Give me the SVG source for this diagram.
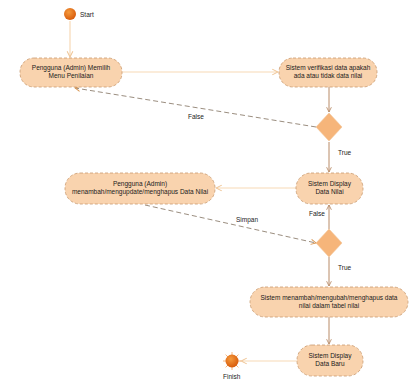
<svg xmlns="http://www.w3.org/2000/svg" width="417" height="381" viewBox="0 0 417 381">
  <style>
    .node rect { fill: #f9d3ae; stroke: #c99a70; stroke-width: 0.8; stroke-dasharray: 3 2; }
    .node text, .lbl { font-family: "Liberation Sans", Arial, sans-serif; font-size: 6.5px; fill: #1a1a1a; text-anchor: middle; }
    .lbl { text-anchor: start; }
    .edge-light { stroke: #f7d9b6; stroke-width: 1.2; fill: none; }
    .edge-dark { stroke: #b88a66; stroke-width: 1; fill: none; }
    .edge-dash { stroke: #8f8070; stroke-width: 0.9; stroke-dasharray: 5 3; fill: none; }
    .dec { fill: #f6b57a; stroke: #f2c497; stroke-width: 0.6; }
  </style>
  <defs>
    <radialGradient id="ball" cx="40%" cy="35%" r="65%">
      <stop offset="0" stop-color="#f59a3c"/>
      <stop offset="1" stop-color="#d85c0c"/>
    </radialGradient>
    <marker id="arrDark" viewBox="0 0 10 10" refX="9" refY="5" markerWidth="6" markerHeight="6" orient="auto">
      <path d="M1,1 L9,5 L1,9" fill="none" stroke="#b88a66" stroke-width="1.4"/>
    </marker>
    <marker id="arrLight" viewBox="0 0 10 10" refX="9" refY="5" markerWidth="6" markerHeight="6" orient="auto">
      <path d="M1,1 L9,5 L1,9" fill="none" stroke="#efc596" stroke-width="1.4"/>
    </marker>
    <marker id="arrDash" viewBox="0 0 10 10" refX="9" refY="5" markerWidth="7" markerHeight="7" orient="auto">
      <path d="M1,1 L9,5 L1,9" fill="none" stroke="#d8944f" stroke-width="1.5"/>
    </marker>
  </defs>

  <rect width="417" height="381" fill="#ffffff"/>

  <g id="connectors">
    <line class="edge-light" x1="70" y1="21" x2="70" y2="57" marker-end="url(#arrLight)"/>
    <line class="edge-light" x1="122" y1="72" x2="278" y2="72" marker-end="url(#arrLight)"/>
    <line class="edge-dark" x1="329" y1="87" x2="329" y2="112" marker-end="url(#arrDark)"/>
    <path class="edge-dash" d="M316,127 L75,88" marker-end="url(#arrDash)"/>
    <text class="lbl" x="188" y="119">False</text>
    <line class="edge-dark" x1="329" y1="142" x2="329" y2="172" marker-end="url(#arrDark)"/>
    <text class="lbl" x="338" y="155">True</text>
    <line class="edge-light" x1="296" y1="188" x2="216" y2="188" marker-end="url(#arrLight)"/>
    <line class="edge-dark" x1="329" y1="229" x2="329" y2="205" marker-end="url(#arrDark)"/>
    <text class="lbl" x="309" y="216">False</text>
    <path class="edge-dash" d="M145,205 L316,243" marker-end="url(#arrDash)"/>
    <text class="lbl" x="236" y="222">Simpan</text>
    <line class="edge-dark" x1="329" y1="257" x2="329" y2="286" marker-end="url(#arrDark)"/>
    <text class="lbl" x="338" y="270">True</text>
    <line class="edge-dark" x1="329" y1="317" x2="329" y2="344" marker-end="url(#arrDark)"/>
    <line class="edge-light" x1="297" y1="361" x2="241" y2="361" marker-end="url(#arrLight)"/>
  </g>

  <g id="start">
    <circle cx="70" cy="14" r="6" fill="url(#ball)"/>
    <text class="lbl" x="80" y="17">Start</text>
  </g>

  <g id="n1" class="node">
    <rect x="20" y="58" width="102" height="29" rx="14"/>
    <text x="71" y="70">Pengguna (Admin) Memilih</text>
    <text x="71" y="78">Menu Penilaian</text>
  </g>

  <g id="n2" class="node">
    <rect x="279" y="58" width="98" height="29" rx="14"/>
    <text x="328" y="70">Sistem verifikasi data apakah</text>
    <text x="328" y="78">ada atau tidak data nilai</text>
  </g>

  <g id="d1">
    <polygon class="dec" points="329,113 342,127 329,141 316,127"/>
  </g>

  <g id="n3" class="node">
    <rect x="296" y="173" width="67" height="31" rx="15"/>
    <text x="329.5" y="186">Sistem Display</text>
    <text x="329.5" y="194">Data Nilai</text>
  </g>

  <g id="n4" class="node">
    <rect x="65" y="173" width="150" height="31" rx="15"/>
    <text x="140" y="186">Pengguna (Admin)</text>
    <text x="140" y="194">menambah/mengupdate/menghapus Data Nilai</text>
  </g>

  <g id="d2">
    <polygon class="dec" points="329,229 342,243 329,257 316,243"/>
  </g>

  <g id="n5" class="node">
    <rect x="250" y="287" width="158" height="30" rx="15"/>
    <text x="329" y="300">Sistem menambah/mengubah/menghapus data</text>
    <text x="329" y="308">nilai dalam tabel nilai</text>
  </g>

  <g id="n6" class="node">
    <rect x="297" y="345" width="66" height="31" rx="15"/>
    <text x="330" y="358">Sistem Display</text>
    <text x="330" y="366">Data Baru</text>
  </g>

  <g id="end">
    <g stroke="#f5a35a" stroke-width="0.8">
      <line x1="232" y1="352" x2="232" y2="370"/>
      <line x1="223" y1="361" x2="241" y2="361"/>
      <line x1="225.6" y1="354.6" x2="238.4" y2="367.4"/>
      <line x1="225.6" y1="367.4" x2="238.4" y2="354.6"/>
    </g>
    <circle cx="232" cy="361" r="6.5" fill="url(#ball)"/>
    <text class="lbl" x="223" y="379">Finish</text>
  </g>
</svg>
